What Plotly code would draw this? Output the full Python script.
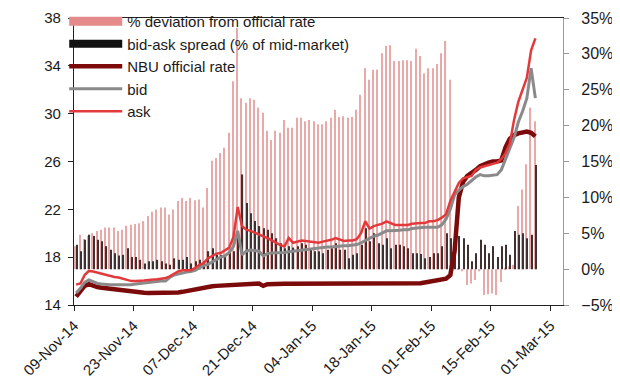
import pandas as pd
import plotly.graph_objects as go

# ---- data (daily, 09-Nov-14 .. 25-Feb-15) ----
dates = pd.date_range("2014-11-09 12:00", periods=109, freq="D")

deviation_pct = [
    3.2, 4.8, 4.2, 4.6, 5.0, 5.3, 5.5, 5.8, 5.8, 5.8,
    5.3, 5.5, 6.05, 6.2, 6.3, 6.4, 6.7, 7.4, 8.0, 8.3,
    8.6, 8.6, 7.6, 8.3, 9.5, 9.9, 9.5, 9.9, 9.6, 9.7,
    8.6, 11.3, 15.1, 15.5, 16.2, 16.9, 19.0, 26.2, 33.6, 23.8,
    23.2, 23.8, 23.6, 22.5, 21.8, 19.3, 18.0, 19.3, 19.0, 20.8,
    19.7, 19.7, 21.1, 21.1, 20.6, 20.8, 20.6, 20.2, 20.2, 20.6,
    21.1, 22.2, 21.2, 21.3, 21.1, 21.2, 22.2, 24.3, 28.0, 26.4,
    27.8, 27.8, 30.1, 31.1, 31.2, 29.0, 29.0, 29.1, 29.1, 29.0,
    30.7, 29.7, 27.3, 28.0, 28.0, 28.6, 30.1, 31.8, 26.4, 0.4,
    0.2, -0.3, -2.2, -2.0, -1.5, -0.3, -3.6, -3.5, -3.4, -3.6,
    -1.8, 0.2, 0.4, 0.6, 8.8, 11.1, 14.6, 22.5, 20.6,
]

spread_pct = [
    3.4, 2.5, 4.1, 4.8, 4.6, 4.1, 3.9, 3.2, 2.7, 2.2,
    1.9, 2.0, 2.9, 1.7, 1.7, 1.3, 0.8, 1.1, 1.1, 1.3,
    1.1, 0.8, 0.6, 1.5, 1.3, 1.3, 1.7, 0.8, 1.1, 1.3,
    1.1, 2.5, 2.9, 2.0, 2.0, 1.7, 2.5, 2.5, 4.3, 13.2,
    9.2, 7.8, 6.7, 6.0, 5.7, 5.5, 5.0, 4.3, 3.6, 2.9,
    3.2, 3.0, 3.2, 3.6, 3.4, 2.7, 2.5, 2.5, 2.2, 2.7,
    2.9, 3.6, 2.7, 2.7, 1.5, 2.0, 2.2, 3.4, 5.7, 3.9,
    5.0, 3.6, 3.4, 4.3, 2.9, 3.4, 3.4, 3.2, 2.9, 2.2,
    2.2, 2.1, 1.5, 1.7, 2.2, 2.2, 3.2, 5.0, 4.3, 4.8,
    4.6, 4.3, 3.4, 1.1, 2.2, 4.1, 3.4, 2.2, 3.2, 1.7,
    3.2, 3.4, 2.0, 5.3, 4.8, 5.0, 4.3, 4.8, 14.5,
]

nbu_rate = [
    14.7, 15.1, 15.6, 15.75, 15.6, 15.5, 15.45, 15.4, 15.35, 15.3,
    15.25, 15.2, 15.15, 15.1, 15.08, 15.05, 15.02, 15.0, 15.0, 14.98,
    14.98, 15.0, 15.0, 15.02, 15.05, 15.1, 15.18, 15.25, 15.33, 15.4,
    15.46, 15.52, 15.57, 15.6, 15.63, 15.66, 15.69, 15.71, 15.73, 15.75,
    15.76, 15.77, 15.78, 15.79, 15.6, 15.74, 15.77, 15.77, 15.77, 15.77,
    15.77, 15.77, 15.77, 15.77, 15.77, 15.77, 15.77, 15.77, 15.77, 15.77,
    15.77, 15.77, 15.77, 15.77, 15.77, 15.77, 15.77, 15.77, 15.77, 15.77,
    15.77, 15.77, 15.77, 15.77, 15.77, 15.77, 15.77, 15.77, 15.77, 15.77,
    15.77, 15.82, 15.88, 15.95, 16.0, 16.05, 16.1, 16.2, 16.5, 18.5,
    23.0, 24.3, 24.8, 25.0, 25.3, 25.6, 25.8, 25.9, 26.0, 26.0,
    26.1, 27.2, 27.9, 28.2, 28.35, 28.45, 28.5, 28.4, 28.1,
]

bid = [
    15.0, 15.4, 15.9, 16.1, 15.95, 15.8, 15.75, 15.7, 15.7, 15.7,
    15.7, 15.65, 15.65, 15.7, 15.75, 15.8, 15.8, 15.85, 15.9, 15.95,
    16.0, 16.0, 16.3, 16.5, 16.6, 16.7, 16.75, 16.8, 16.9, 17.1,
    17.3, 17.4, 17.6, 17.8, 18.0, 18.1, 18.4, 18.9, 20.2, 18.2,
    18.5, 18.6, 18.55, 18.5, 18.1, 18.3, 18.35, 18.35, 18.35, 18.4,
    18.45, 18.5, 18.5, 18.55, 18.6, 18.7, 18.75, 18.8, 18.8, 18.85,
    18.85, 18.9, 18.9, 18.95, 18.95, 19.0, 19.05, 19.2, 19.4, 19.6,
    19.75, 19.85, 20.0, 20.2, 20.2, 20.2, 20.25, 20.3, 20.3, 20.4,
    20.45, 20.45, 20.5, 20.5, 20.5, 20.5, 20.7, 21.2, 22.0, 23.2,
    23.6, 23.9, 24.1, 24.4, 24.7, 24.9, 24.8, 24.8, 24.85, 24.9,
    25.3, 26.2, 27.2, 28.0, 29.3, 30.2, 31.3, 33.8, 31.3,
]

ask = [
    15.7, 15.8, 16.5, 16.85, 16.8, 16.7, 16.6, 16.5, 16.45, 16.35,
    16.3, 16.2, 16.1, 16.0, 16.0, 16.0, 16.05, 16.1, 16.1, 16.15,
    16.2, 16.25, 16.4, 16.6, 16.8, 16.9, 16.9, 16.9, 17.1, 17.35,
    17.5, 17.9, 18.1, 18.3, 18.35, 18.6, 18.8, 19.7, 22.2, 20.6,
    20.3, 20.2, 20.05, 19.95, 19.8, 19.6, 19.4, 19.2, 19.0, 18.9,
    19.6, 19.2, 19.3, 19.4, 19.35, 19.3, 19.25, 19.2, 19.3, 19.35,
    19.45, 19.6, 19.45, 19.35, 19.4, 19.4, 19.5, 20.0, 21.0, 20.4,
    20.6, 20.7, 20.8, 21.0, 20.85, 20.7, 20.7, 20.7, 20.7, 20.8,
    20.85, 20.85, 20.85, 21.0, 21.0, 21.1, 21.3, 21.6, 22.7, 23.5,
    24.2, 24.6, 24.7, 24.8, 25.3, 25.5, 25.6, 25.7, 25.8, 25.9,
    26.2, 26.7, 27.5, 29.5, 31.0, 32.0, 33.0, 35.3, 36.3,
]

FONT = "Liberation Sans, Arial, sans-serif"
TXT = "#1a1a1a"

fig = go.Figure()

# bars on the right-hand (percent) axis
fig.add_bar(x=dates, y=deviation_pct, name="% deviation from official rate",
            marker=dict(color="#eaa9a9", line_width=0), showlegend=False, yaxis="y")
fig.add_bar(x=dates, y=spread_pct, name="bid-ask spread (% of mid-market)",
            marker=dict(color="#40302f", line_width=0), showlegend=False, yaxis="y")

# legend entries for the bars (wide swatches as in the original)
fig.add_scatter(x=[None], y=[None], mode="lines", name="% deviation from official rate",
                line=dict(color="#e58a8a", width=9), yaxis="y2")
fig.add_scatter(x=[None], y=[None], mode="lines", name="bid-ask spread (% of mid-market)",
                line=dict(color="#111111", width=8), yaxis="y2")

# lines on the left-hand (rate) axis
fig.add_scatter(x=dates, y=nbu_rate, mode="lines", name="NBU official rate",
                line=dict(color="#7d0a0a", width=4.5), yaxis="y2")
fig.add_scatter(x=dates, y=bid, mode="lines", name="bid",
                line=dict(color="#8a8a8a", width=3), yaxis="y2")
fig.add_scatter(x=dates, y=ask, mode="lines", name="ask",
                line=dict(color="#e23a3c", width=2.5), yaxis="y2")

fig.update_layout(
    width=620, height=380,
    margin=dict(l=66, r=65, t=10, b=83, autoexpand=False),
    paper_bgcolor="white", plot_bgcolor="white",
    font=dict(family=FONT, size=15, color=TXT),
    barmode="group", bargap=0.45, bargroupgap=0,
    legend=dict(x=-0.02, y=1.045, xanchor="left", yanchor="top",
                bgcolor="rgba(0,0,0,0)", font=dict(size=15, color=TXT),
                itemwidth=53, tracegroupgap=0),
    xaxis=dict(type="date", range=["2014-11-09", "2015-03-04"],
               tick0="2014-11-09", dtick=14 * 86400000, tickformat="%d-%b-%y",
               tickangle=-45, ticks="outside", ticklen=5, tickcolor="#222",
               showline=True, linecolor="#222", linewidth=1.2, mirror=True,
               showgrid=False, zeroline=False, automargin=False,
               tickfont=dict(size=15, color=TXT)),
    yaxis=dict(side="right", range=[-5, 35], tick0=0, dtick=5, ticksuffix="%",
               ticks="outside", ticklen=5, tickcolor="#999",
               showline=True, linecolor="#999", linewidth=1.2,
               showgrid=False, zeroline=False, ticklabelstandoff=9,
               automargin=False, tickfont=dict(size=16, color=TXT)),
    yaxis2=dict(overlaying="y", side="left", range=[14, 38], tick0=14, dtick=4,
                ticks="outside", ticklen=5, tickcolor="#222",
                showline=True, linecolor="#222", linewidth=1.2,
                showgrid=False, zeroline=False, ticklabelstandoff=4,
                automargin=False, tickfont=dict(size=15, color=TXT)),
)

fig.write_html("out.html")
